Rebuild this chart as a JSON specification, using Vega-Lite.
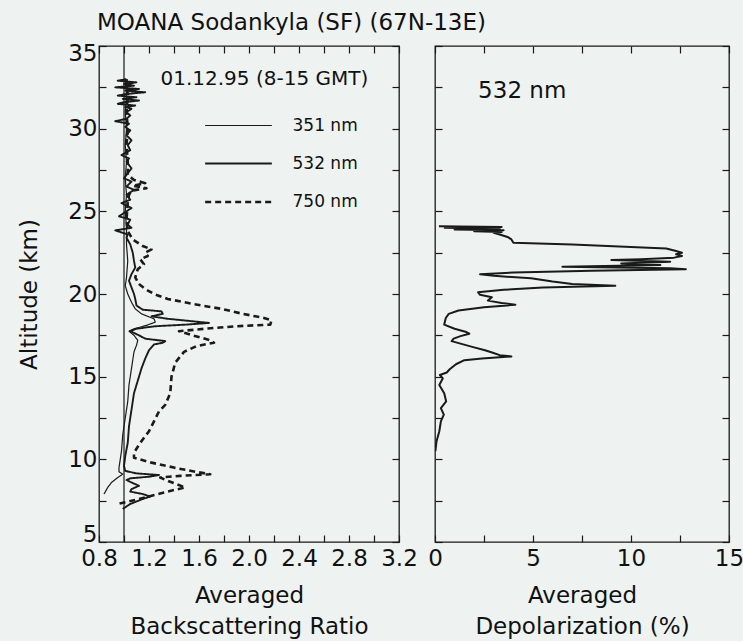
{
  "$schema": "https://vega.github.io/schema/vega-lite/v6.json",
  "background": "#eef3f2",
  "padding": {"left": 18, "top": 12, "right": 0, "bottom": 2},
  "title": {"text": "MOANA Sodankyla (SF) (67N-13E)", "anchor": "start", "frame": "group", "fontSize": 23, "font": "DejaVu Sans", "fontWeight": "normal", "color": "#111111", "offset": 6, "dx": -2},
  "datasets": {
    "backscatter": [
      {"wavelength": "532 nm", "altitude": 33.0, "ratio": 1.02}, {"wavelength": "532 nm", "altitude": 32.9, "ratio": 0.95}, {"wavelength": "532 nm", "altitude": 32.8, "ratio": 1.10}, {"wavelength": "532 nm", "altitude": 32.7, "ratio": 1.00}, {"wavelength": "532 nm", "altitude": 32.6, "ratio": 1.08}, {"wavelength": "532 nm", "altitude": 32.5, "ratio": 0.93}, {"wavelength": "532 nm", "altitude": 32.4, "ratio": 1.12}, {"wavelength": "532 nm", "altitude": 32.3, "ratio": 1.01}, {"wavelength": "532 nm", "altitude": 32.2, "ratio": 1.17}, {"wavelength": "532 nm", "altitude": 32.1, "ratio": 1.02}, {"wavelength": "532 nm", "altitude": 32.0, "ratio": 0.95}, {"wavelength": "532 nm", "altitude": 31.9, "ratio": 1.10}, {"wavelength": "532 nm", "altitude": 31.8, "ratio": 0.99}, {"wavelength": "532 nm", "altitude": 31.7, "ratio": 1.12}, {"wavelength": "532 nm", "altitude": 31.6, "ratio": 1.00}, {"wavelength": "532 nm", "altitude": 31.5, "ratio": 0.95}, {"wavelength": "532 nm", "altitude": 31.4, "ratio": 1.09}, {"wavelength": "532 nm", "altitude": 31.3, "ratio": 1.01}, {"wavelength": "532 nm", "altitude": 31.2, "ratio": 1.06}, {"wavelength": "532 nm", "altitude": 31.0, "ratio": 1.02}, {"wavelength": "532 nm", "altitude": 30.8, "ratio": 1.05}, {"wavelength": "532 nm", "altitude": 30.6, "ratio": 1.02}, {"wavelength": "532 nm", "altitude": 30.45, "ratio": 0.93}, {"wavelength": "532 nm", "altitude": 30.3, "ratio": 1.04}, {"wavelength": "532 nm", "altitude": 30.1, "ratio": 1.01}, {"wavelength": "532 nm", "altitude": 29.9, "ratio": 1.05}, {"wavelength": "532 nm", "altitude": 29.6, "ratio": 1.02}, {"wavelength": "532 nm", "altitude": 29.3, "ratio": 1.06}, {"wavelength": "532 nm", "altitude": 29.0, "ratio": 1.03}, {"wavelength": "532 nm", "altitude": 28.7, "ratio": 1.05}, {"wavelength": "532 nm", "altitude": 28.4, "ratio": 0.98}, {"wavelength": "532 nm", "altitude": 28.2, "ratio": 1.04}, {"wavelength": "532 nm", "altitude": 28.0, "ratio": 1.02}, {"wavelength": "532 nm", "altitude": 27.6, "ratio": 1.06}, {"wavelength": "532 nm", "altitude": 27.3, "ratio": 1.03}, {"wavelength": "532 nm", "altitude": 27.0, "ratio": 1.00}, {"wavelength": "532 nm", "altitude": 26.8, "ratio": 1.06}, {"wavelength": "532 nm", "altitude": 26.5, "ratio": 1.02}, {"wavelength": "532 nm", "altitude": 26.3, "ratio": 1.08}, {"wavelength": "532 nm", "altitude": 26.0, "ratio": 1.02}, {"wavelength": "532 nm", "altitude": 25.7, "ratio": 1.05}, {"wavelength": "532 nm", "altitude": 25.5, "ratio": 0.98}, {"wavelength": "532 nm", "altitude": 25.2, "ratio": 1.06}, {"wavelength": "532 nm", "altitude": 25.0, "ratio": 1.02}, {"wavelength": "532 nm", "altitude": 24.7, "ratio": 0.96}, {"wavelength": "532 nm", "altitude": 24.5, "ratio": 1.05}, {"wavelength": "532 nm", "altitude": 24.2, "ratio": 1.03}, {"wavelength": "532 nm", "altitude": 24.0, "ratio": 1.06}, {"wavelength": "532 nm", "altitude": 23.85, "ratio": 0.93}, {"wavelength": "532 nm", "altitude": 23.6, "ratio": 1.03}, {"wavelength": "532 nm", "altitude": 23.4, "ratio": 1.02}, {"wavelength": "532 nm", "altitude": 23.0, "ratio": 1.05}, {"wavelength": "532 nm", "altitude": 22.5, "ratio": 1.07}, {"wavelength": "532 nm", "altitude": 22.0, "ratio": 1.08}, {"wavelength": "532 nm", "altitude": 21.6, "ratio": 1.09}, {"wavelength": "532 nm", "altitude": 21.2, "ratio": 1.06}, {"wavelength": "532 nm", "altitude": 20.8, "ratio": 1.04}, {"wavelength": "532 nm", "altitude": 20.4, "ratio": 1.06}, {"wavelength": "532 nm", "altitude": 20.0, "ratio": 1.08}, {"wavelength": "532 nm", "altitude": 19.7, "ratio": 1.09}, {"wavelength": "532 nm", "altitude": 19.3, "ratio": 1.10}, {"wavelength": "532 nm", "altitude": 19.05, "ratio": 1.15}, {"wavelength": "532 nm", "altitude": 18.95, "ratio": 1.30}, {"wavelength": "532 nm", "altitude": 18.8, "ratio": 1.31}, {"wavelength": "532 nm", "altitude": 18.65, "ratio": 1.22}, {"wavelength": "532 nm", "altitude": 18.5, "ratio": 1.35}, {"wavelength": "532 nm", "altitude": 18.35, "ratio": 1.55}, {"wavelength": "532 nm", "altitude": 18.25, "ratio": 1.68}, {"wavelength": "532 nm", "altitude": 18.15, "ratio": 1.50}, {"wavelength": "532 nm", "altitude": 18.05, "ratio": 1.25}, {"wavelength": "532 nm", "altitude": 17.9, "ratio": 1.10}, {"wavelength": "532 nm", "altitude": 17.75, "ratio": 1.05}, {"wavelength": "532 nm", "altitude": 17.5, "ratio": 1.12}, {"wavelength": "532 nm", "altitude": 17.3, "ratio": 1.17}, {"wavelength": "532 nm", "altitude": 17.15, "ratio": 1.33}, {"wavelength": "532 nm", "altitude": 17.05, "ratio": 1.31}, {"wavelength": "532 nm", "altitude": 16.95, "ratio": 1.24}, {"wavelength": "532 nm", "altitude": 16.6, "ratio": 1.20}, {"wavelength": "532 nm", "altitude": 16.1, "ratio": 1.17}, {"wavelength": "532 nm", "altitude": 15.5, "ratio": 1.14}, {"wavelength": "532 nm", "altitude": 15.0, "ratio": 1.12}, {"wavelength": "532 nm", "altitude": 14.0, "ratio": 1.08}, {"wavelength": "532 nm", "altitude": 13.0, "ratio": 1.06}, {"wavelength": "532 nm", "altitude": 12.0, "ratio": 1.04}, {"wavelength": "532 nm", "altitude": 11.0, "ratio": 1.03}, {"wavelength": "532 nm", "altitude": 10.2, "ratio": 1.01}, {"wavelength": "532 nm", "altitude": 9.6, "ratio": 1.00}, {"wavelength": "532 nm", "altitude": 9.3, "ratio": 1.01}, {"wavelength": "532 nm", "altitude": 9.15, "ratio": 1.10}, {"wavelength": "532 nm", "altitude": 9.05, "ratio": 1.28}, {"wavelength": "532 nm", "altitude": 8.95, "ratio": 1.20}, {"wavelength": "532 nm", "altitude": 8.85, "ratio": 1.05}, {"wavelength": "532 nm", "altitude": 8.75, "ratio": 1.02}, {"wavelength": "532 nm", "altitude": 8.6, "ratio": 1.06}, {"wavelength": "532 nm", "altitude": 8.4, "ratio": 1.12}, {"wavelength": "532 nm", "altitude": 8.2, "ratio": 1.06}, {"wavelength": "532 nm", "altitude": 8.05, "ratio": 1.05}, {"wavelength": "532 nm", "altitude": 7.9, "ratio": 1.15}, {"wavelength": "532 nm", "altitude": 7.75, "ratio": 1.21}, {"wavelength": "532 nm", "altitude": 7.6, "ratio": 1.15}, {"wavelength": "532 nm", "altitude": 7.3, "ratio": 1.05}, {"wavelength": "532 nm", "altitude": 7.0, "ratio": 0.99},
      {"wavelength": "351 nm", "altitude": 33.0, "ratio": 1.01}, {"wavelength": "351 nm", "altitude": 32.0, "ratio": 1.02}, {"wavelength": "351 nm", "altitude": 31.0, "ratio": 1.01}, {"wavelength": "351 nm", "altitude": 30.0, "ratio": 1.02}, {"wavelength": "351 nm", "altitude": 29.0, "ratio": 1.01}, {"wavelength": "351 nm", "altitude": 28.0, "ratio": 1.02}, {"wavelength": "351 nm", "altitude": 27.0, "ratio": 1.01}, {"wavelength": "351 nm", "altitude": 26.0, "ratio": 1.02}, {"wavelength": "351 nm", "altitude": 25.0, "ratio": 1.01}, {"wavelength": "351 nm", "altitude": 24.0, "ratio": 1.02}, {"wavelength": "351 nm", "altitude": 23.0, "ratio": 1.02}, {"wavelength": "351 nm", "altitude": 22.0, "ratio": 1.03}, {"wavelength": "351 nm", "altitude": 21.0, "ratio": 1.02}, {"wavelength": "351 nm", "altitude": 20.5, "ratio": 1.01}, {"wavelength": "351 nm", "altitude": 20.0, "ratio": 1.03}, {"wavelength": "351 nm", "altitude": 19.5, "ratio": 1.06}, {"wavelength": "351 nm", "altitude": 19.1, "ratio": 1.09}, {"wavelength": "351 nm", "altitude": 18.8, "ratio": 1.14}, {"wavelength": "351 nm", "altitude": 18.5, "ratio": 1.24}, {"wavelength": "351 nm", "altitude": 18.3, "ratio": 1.25}, {"wavelength": "351 nm", "altitude": 18.1, "ratio": 1.18}, {"wavelength": "351 nm", "altitude": 17.9, "ratio": 1.08}, {"wavelength": "351 nm", "altitude": 17.75, "ratio": 1.04}, {"wavelength": "351 nm", "altitude": 17.5, "ratio": 1.08}, {"wavelength": "351 nm", "altitude": 17.2, "ratio": 1.11}, {"wavelength": "351 nm", "altitude": 16.9, "ratio": 1.10}, {"wavelength": "351 nm", "altitude": 16.5, "ratio": 1.08}, {"wavelength": "351 nm", "altitude": 15.5, "ratio": 1.06}, {"wavelength": "351 nm", "altitude": 14.5, "ratio": 1.04}, {"wavelength": "351 nm", "altitude": 13.5, "ratio": 1.03}, {"wavelength": "351 nm", "altitude": 12.5, "ratio": 1.01}, {"wavelength": "351 nm", "altitude": 11.5, "ratio": 0.99}, {"wavelength": "351 nm", "altitude": 10.5, "ratio": 0.98}, {"wavelength": "351 nm", "altitude": 10.0, "ratio": 0.97}, {"wavelength": "351 nm", "altitude": 9.5, "ratio": 0.96}, {"wavelength": "351 nm", "altitude": 9.25, "ratio": 0.96}, {"wavelength": "351 nm", "altitude": 9.1, "ratio": 0.99}, {"wavelength": "351 nm", "altitude": 8.9, "ratio": 0.95}, {"wavelength": "351 nm", "altitude": 8.6, "ratio": 0.90}, {"wavelength": "351 nm", "altitude": 8.3, "ratio": 0.87}, {"wavelength": "351 nm", "altitude": 7.9, "ratio": 0.84},
      {"wavelength": "750 nm", "altitude": 33.0, "ratio": 1.02}, {"wavelength": "750 nm", "altitude": 32.0, "ratio": 1.03}, {"wavelength": "750 nm", "altitude": 31.0, "ratio": 1.02}, {"wavelength": "750 nm", "altitude": 30.0, "ratio": 1.03}, {"wavelength": "750 nm", "altitude": 29.0, "ratio": 1.02}, {"wavelength": "750 nm", "altitude": 28.0, "ratio": 1.03}, {"wavelength": "750 nm", "altitude": 27.2, "ratio": 1.03}, {"wavelength": "750 nm", "altitude": 26.9, "ratio": 1.08}, {"wavelength": "750 nm", "altitude": 26.7, "ratio": 1.17}, {"wavelength": "750 nm", "altitude": 26.55, "ratio": 1.07}, {"wavelength": "750 nm", "altitude": 26.4, "ratio": 1.18}, {"wavelength": "750 nm", "altitude": 26.25, "ratio": 1.06}, {"wavelength": "750 nm", "altitude": 26.0, "ratio": 1.04}, {"wavelength": "750 nm", "altitude": 25.5, "ratio": 1.03}, {"wavelength": "750 nm", "altitude": 24.5, "ratio": 1.02}, {"wavelength": "750 nm", "altitude": 23.8, "ratio": 1.03}, {"wavelength": "750 nm", "altitude": 23.3, "ratio": 1.07}, {"wavelength": "750 nm", "altitude": 22.9, "ratio": 1.15}, {"wavelength": "750 nm", "altitude": 22.7, "ratio": 1.22}, {"wavelength": "750 nm", "altitude": 22.5, "ratio": 1.17}, {"wavelength": "750 nm", "altitude": 22.3, "ratio": 1.19}, {"wavelength": "750 nm", "altitude": 22.1, "ratio": 1.13}, {"wavelength": "750 nm", "altitude": 21.8, "ratio": 1.16}, {"wavelength": "750 nm", "altitude": 21.5, "ratio": 1.11}, {"wavelength": "750 nm", "altitude": 21.0, "ratio": 1.09}, {"wavelength": "750 nm", "altitude": 20.6, "ratio": 1.12}, {"wavelength": "750 nm", "altitude": 20.3, "ratio": 1.17}, {"wavelength": "750 nm", "altitude": 20.0, "ratio": 1.24}, {"wavelength": "750 nm", "altitude": 19.7, "ratio": 1.35}, {"wavelength": "750 nm", "altitude": 19.4, "ratio": 1.55}, {"wavelength": "750 nm", "altitude": 19.1, "ratio": 1.78}, {"wavelength": "750 nm", "altitude": 18.8, "ratio": 1.95}, {"wavelength": "750 nm", "altitude": 18.55, "ratio": 2.12}, {"wavelength": "750 nm", "altitude": 18.4, "ratio": 2.18}, {"wavelength": "750 nm", "altitude": 18.15, "ratio": 2.17}, {"wavelength": "750 nm", "altitude": 18.05, "ratio": 1.90}, {"wavelength": "750 nm", "altitude": 17.9, "ratio": 1.65}, {"wavelength": "750 nm", "altitude": 17.75, "ratio": 1.44}, {"wavelength": "750 nm", "altitude": 17.5, "ratio": 1.55}, {"wavelength": "750 nm", "altitude": 17.2, "ratio": 1.69}, {"wavelength": "750 nm", "altitude": 17.05, "ratio": 1.72}, {"wavelength": "750 nm", "altitude": 16.85, "ratio": 1.58}, {"wavelength": "750 nm", "altitude": 16.5, "ratio": 1.48}, {"wavelength": "750 nm", "altitude": 15.85, "ratio": 1.41}, {"wavelength": "750 nm", "altitude": 15.0, "ratio": 1.38}, {"wavelength": "750 nm", "altitude": 14.0, "ratio": 1.37}, {"wavelength": "750 nm", "altitude": 13.3, "ratio": 1.33}, {"wavelength": "750 nm", "altitude": 12.9, "ratio": 1.28}, {"wavelength": "750 nm", "altitude": 12.3, "ratio": 1.24}, {"wavelength": "750 nm", "altitude": 11.7, "ratio": 1.20}, {"wavelength": "750 nm", "altitude": 11.0, "ratio": 1.13}, {"wavelength": "750 nm", "altitude": 10.4, "ratio": 1.08}, {"wavelength": "750 nm", "altitude": 10.1, "ratio": 1.08}, {"wavelength": "750 nm", "altitude": 9.8, "ratio": 1.22}, {"wavelength": "750 nm", "altitude": 9.5, "ratio": 1.40}, {"wavelength": "750 nm", "altitude": 9.25, "ratio": 1.57}, {"wavelength": "750 nm", "altitude": 9.1, "ratio": 1.69}, {"wavelength": "750 nm", "altitude": 9.0, "ratio": 1.45}, {"wavelength": "750 nm", "altitude": 8.9, "ratio": 1.29}, {"wavelength": "750 nm", "altitude": 8.7, "ratio": 1.35}, {"wavelength": "750 nm", "altitude": 8.5, "ratio": 1.42}, {"wavelength": "750 nm", "altitude": 8.3, "ratio": 1.49}, {"wavelength": "750 nm", "altitude": 8.0, "ratio": 1.32}, {"wavelength": "750 nm", "altitude": 7.6, "ratio": 1.12}, {"wavelength": "750 nm", "altitude": 7.3, "ratio": 0.95}
    ],
    "depol": [
      {"altitude": 24.1, "depolarization": 0.2}, {"altitude": 24.05, "depolarization": 3.4}, {"altitude": 24.0, "depolarization": 0.5}, {"altitude": 23.95, "depolarization": 3.3}, {"altitude": 23.9, "depolarization": 1.0}, {"altitude": 23.85, "depolarization": 3.5}, {"altitude": 23.8, "depolarization": 2.0}, {"altitude": 23.75, "depolarization": 3.4}, {"altitude": 23.7, "depolarization": 3.0}, {"altitude": 23.6, "depolarization": 3.3}, {"altitude": 23.45, "depolarization": 3.7}, {"altitude": 23.3, "depolarization": 3.9}, {"altitude": 23.1, "depolarization": 4.0}, {"altitude": 23.0, "depolarization": 7.0}, {"altitude": 22.85, "depolarization": 10.0}, {"altitude": 22.75, "depolarization": 11.8}, {"altitude": 22.6, "depolarization": 12.3}, {"altitude": 22.5, "depolarization": 12.6}, {"altitude": 22.4, "depolarization": 12.3}, {"altitude": 22.3, "depolarization": 12.6}, {"altitude": 22.2, "depolarization": 12.2}, {"altitude": 22.1, "depolarization": 10.5}, {"altitude": 22.05, "depolarization": 9.0}, {"altitude": 21.95, "depolarization": 12.0}, {"altitude": 21.85, "depolarization": 9.5}, {"altitude": 21.75, "depolarization": 11.5}, {"altitude": 21.65, "depolarization": 6.5}, {"altitude": 21.55, "depolarization": 12.0}, {"altitude": 21.5, "depolarization": 12.8}, {"altitude": 21.4, "depolarization": 8.0}, {"altitude": 21.3, "depolarization": 4.0}, {"altitude": 21.2, "depolarization": 2.3}, {"altitude": 21.1, "depolarization": 3.0}, {"altitude": 20.95, "depolarization": 4.9}, {"altitude": 20.75, "depolarization": 6.0}, {"altitude": 20.6, "depolarization": 7.0}, {"altitude": 20.5, "depolarization": 9.2}, {"altitude": 20.4, "depolarization": 5.5}, {"altitude": 20.25, "depolarization": 3.5}, {"altitude": 20.1, "depolarization": 2.2}, {"altitude": 19.95, "depolarization": 2.3}, {"altitude": 19.8, "depolarization": 2.9}, {"altitude": 19.6, "depolarization": 2.7}, {"altitude": 19.45, "depolarization": 3.4}, {"altitude": 19.35, "depolarization": 4.1}, {"altitude": 19.2, "depolarization": 2.5}, {"altitude": 19.0, "depolarization": 1.2}, {"altitude": 18.8, "depolarization": 0.7}, {"altitude": 18.55, "depolarization": 0.55}, {"altitude": 18.15, "depolarization": 0.47}, {"altitude": 17.9, "depolarization": 1.0}, {"altitude": 17.7, "depolarization": 1.6}, {"altitude": 17.6, "depolarization": 1.75}, {"altitude": 17.45, "depolarization": 1.3}, {"altitude": 17.3, "depolarization": 0.95}, {"altitude": 17.15, "depolarization": 0.85}, {"altitude": 17.0, "depolarization": 1.3}, {"altitude": 16.8, "depolarization": 1.9}, {"altitude": 16.6, "depolarization": 2.55}, {"altitude": 16.45, "depolarization": 2.95}, {"altitude": 16.3, "depolarization": 3.3}, {"altitude": 16.22, "depolarization": 3.9}, {"altitude": 16.1, "depolarization": 2.4}, {"altitude": 16.0, "depolarization": 1.5}, {"altitude": 15.75, "depolarization": 1.07}, {"altitude": 15.45, "depolarization": 0.75}, {"altitude": 15.25, "depolarization": 0.6}, {"altitude": 15.1, "depolarization": 0.25}, {"altitude": 14.9, "depolarization": 0.4}, {"altitude": 14.5, "depolarization": 0.22}, {"altitude": 14.0, "depolarization": 0.47}, {"altitude": 13.5, "depolarization": 0.57}, {"altitude": 13.1, "depolarization": 0.3}, {"altitude": 12.7, "depolarization": 0.45}, {"altitude": 12.3, "depolarization": 0.3}, {"altitude": 11.7, "depolarization": 0.22}, {"altitude": 11.1, "depolarization": 0.08}, {"altitude": 10.5, "depolarization": 0.02}
    ]
  },
  "spacing": 36,
  "bounds": "flush",
  "hconcat": [
    {
      "width": 300,
      "height": 496,
      "layer": [
        {
          "data": {"name": "backscatter"},
          "mark": {"type": "line", "color": "#1a1a1a", "strokeJoin": "round", "clip": true},
          "encoding": {
            "x": {"field": "ratio", "type": "quantitative", "title": ["Averaged", "Backscattering Ratio"],
              "scale": {"domain": [0.8, 3.2], "nice": false, "zero": false},
              "axis": {"orient": "bottom", "values": [0.8, 1.0, 1.2, 1.4, 1.6, 1.8, 2.0, 2.2, 2.4, 2.6, 2.8, 3.0, 3.2], "labelExpr": "round(datum.value*5) % 2 == 0 ? format(datum.value, '.1f') : ''", "ticks": true, "tickSize": -7, "labelPadding": 12, "labelOverlap": false, "labelFlush": false, "titlePadding": 14, "titleLineHeight": 31}},
            "y": {"field": "altitude", "type": "quantitative", "title": "Altitude (km)",
              "scale": {"domain": [5, 35], "nice": false, "zero": false},
              "axis": {"orient": "left", "values": [5, 7.5, 10, 12.5, 15, 17.5, 20, 22.5, 25, 27.5, 30, 32.5, 35], "labelExpr": "datum.value % 5 == 0 ? datum.label : ''", "ticks": true, "tickSize": -7, "labelPadding": 9, "labelOverlap": false, "labelFlush": true, "labelFlushOffset": 4, "titlePadding": 26}},
            "order": {"field": "altitude", "sort": "descending"},
            "strokeDash": {"field": "wavelength", "type": "nominal",
              "scale": {"domain": ["351 nm", "532 nm", "750 nm"], "range": [[1, 0], [1, 0], [6, 4]]},
              "legend": {"title": "01.12.95 (8-15 GMT)"}},
            "strokeWidth": {"field": "wavelength", "type": "nominal",
              "scale": {"domain": ["351 nm", "532 nm", "750 nm"], "range": [1.2, 2.6, 1.5]},
              "legend": {"title": "01.12.95 (8-15 GMT)"}}
          }
        },
        {
          "data": {"values": [{}]},
          "mark": {"type": "rule", "color": "#1a1a1a", "strokeWidth": 1.2},
          "encoding": {
            "x": {"datum": 1.0, "axis": {"orient": "top", "title": null, "labels": false, "ticks": true, "tickSize": -7, "values": [0.8, 1.0, 1.2, 1.4, 1.6, 1.8, 2.0, 2.2, 2.4, 2.6, 2.8, 3.0, 3.2]}},
            "y": {"datum": 5, "axis": {"orient": "right", "title": null, "labels": false, "ticks": true, "tickSize": -7, "values": [5, 7.5, 10, 12.5, 15, 17.5, 20, 22.5, 25, 27.5, 30, 32.5, 35]}},
            "y2": {"datum": 35}
          }
        }
      ],
      "resolve": {"axis": {"x": "independent", "y": "independent"}}
    },
    {
      "width": 294,
      "height": 496,
      "layer": [
        {
          "data": {"name": "depol"},
          "mark": {"type": "line", "color": "#1a1a1a", "strokeWidth": 2, "strokeJoin": "round", "clip": true},
          "encoding": {
            "x": {"field": "depolarization", "type": "quantitative", "title": ["Averaged", "Depolarization (%)"],
              "scale": {"domain": [0, 15], "nice": false, "zero": false},
              "axis": {"orient": "bottom", "values": [0, 2.5, 5, 7.5, 10, 12.5, 15], "labelExpr": "datum.value % 5 == 0 ? datum.label : ''", "ticks": true, "tickSize": -7, "labelPadding": 12, "labelOverlap": false, "labelFlush": false, "titlePadding": 14, "titleLineHeight": 31}},
            "y": {"field": "altitude", "type": "quantitative", "title": null,
              "scale": {"domain": [5, 35], "nice": false, "zero": false},
              "axis": {"orient": "left", "labels": false, "ticks": true, "tickSize": -7, "values": [5, 7.5, 10, 12.5, 15, 17.5, 20, 22.5, 25, 27.5, 30, 32.5, 35]}},
            "order": {"field": "altitude", "sort": "descending"}
          }
        },
        {
          "data": {"values": [{"label": "532 nm"}]},
          "mark": {"type": "text", "align": "left", "baseline": "middle", "fontSize": 23, "font": "DejaVu Sans", "color": "#111111"},
          "encoding": {
            "text": {"field": "label"},
            "x": {"datum": 2.2, "axis": {"orient": "top", "title": null, "labels": false, "ticks": true, "tickSize": -7, "values": [0, 2.5, 5, 7.5, 10, 12.5, 15]}},
            "y": {"datum": 32.3, "axis": {"orient": "right", "title": null, "labels": false, "ticks": true, "tickSize": -7, "values": [5, 7.5, 10, 12.5, 15, 17.5, 20, 22.5, 25, 27.5, 30, 32.5, 35]}}
          }
        }
      ],
      "resolve": {"axis": {"x": "independent", "y": "independent"}}
    }
  ],
  "config": {
    "font": "DejaVu Sans",
    "view": {"stroke": "#1a1a1a", "strokeWidth": 1.3},
    "axis": {"labelFont": "DejaVu Sans", "labelFontSize": 23, "labelColor": "#111111", "titleFont": "DejaVu Sans", "titleFontSize": 23, "titleFontWeight": "normal", "titleColor": "#111111", "tickColor": "#1a1a1a", "tickWidth": 1.2, "grid": false, "domain": false},
    "legend": {"orient": "none", "legendX": 61.5, "legendY": 23, "padding": 0, "titleFont": "DejaVu Sans", "titleFontSize": 20, "titleFontWeight": "normal", "titleColor": "#111111", "titlePadding": 17, "titleLimit": 400, "labelFont": "DejaVu Sans", "labelFontSize": 17, "labelColor": "#111111", "symbolType": "M-1.8,0H1.8", "symbolSize": 1373, "symbolStrokeColor": "#1a1a1a", "symbolFillColor": "transparent", "symbolOffset": 58, "labelOffset": 34, "rowPadding": 10}
  }
}
